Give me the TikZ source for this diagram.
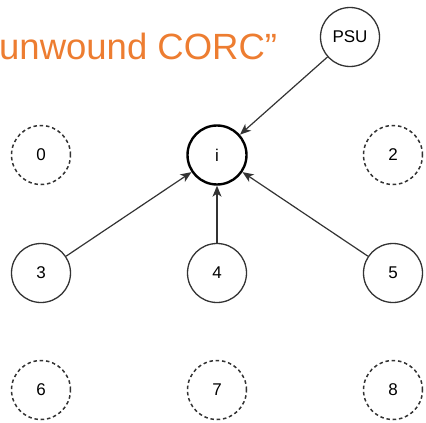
\documentclass[tikz,border=0pt]{standalone}
\usepackage{fontspec}
\setmainfont{Liberation Sans}
\usetikzlibrary{arrows.meta}
\definecolor{ttl}{HTML}{ED7D31}
\definecolor{ln}{HTML}{333333}
\begin{document}
\begin{tikzpicture}[x=1pt,y=-1pt,
  st/.style={circle,draw=ln,line width=1.3pt,minimum size=59pt,inner sep=0pt,font=\fontsize{17}{19}\selectfont},
  dsh/.style={st,line width=1.5pt,dash pattern=on 3.5pt off 2.8pt},
  ctr/.style={st,line width=2.4pt,draw=black},
  arr/.style={draw=ln,line width=1.2pt,-{Stealth[length=11pt,width=9pt,inset=3pt]}}]
\useasboundingbox (0,0) rectangle (426,423);
\begin{scope}
\clip (0,0) rectangle (426,423);
\node[anchor=base west,inner sep=0pt,text=ttl,font=\fontsize{36.5}{40}\selectfont] (title) at (-1,59) {unwound CORC”};
\end{scope}
\node[st] (psu) at (350,37) {PSU};
\node[ctr] (i) at (217,155) {i};
\node[dsh] (n0) at (41,155) {0};
\node[dsh] (n2) at (393,155) {2};
\node[st] (n3) at (41,273) {3};
\node[st] (n4) at (217,273) {4};
\node[st] (n5) at (393,273) {5};
\node[dsh] (n6) at (41,390) {6};
\node[dsh] (n7) at (217,390) {7};
\node[dsh] (n8) at (393,390) {8};
\draw[arr] (psu) -- (i);
\draw[arr] (n3) -- (i);
\draw[arr] (n4) -- (i);
\draw[arr] (n5) -- (i);
\end{tikzpicture}
\end{document}
